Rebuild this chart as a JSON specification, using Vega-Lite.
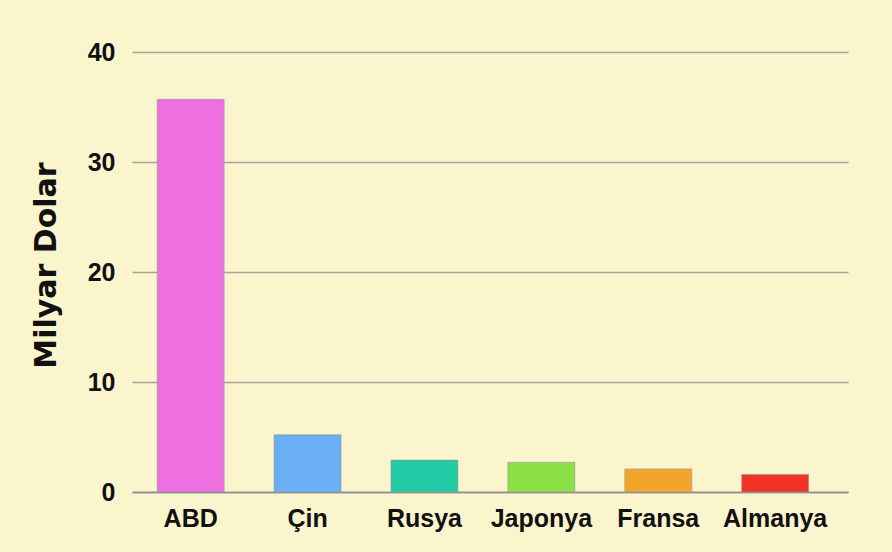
{
  "$schema": "https://vega.github.io/schema/vega-lite/v6.json",
  "autosize": "none",
  "width": 716,
  "height": 440,
  "padding": {"left": 132, "top": 52, "right": 44, "bottom": 60},
  "background": "#FAF5CC",
  "config": {"view": {"stroke": null}, "font": "Liberation Sans"},
  "data": {"values": [
    {"ulke": "ABD", "deger": 35.7, "renk": "#EE6FE0"},
    {"ulke": "Çin", "deger": 5.2, "renk": "#6AAEF5"},
    {"ulke": "Rusya", "deger": 2.9, "renk": "#22C9A5"},
    {"ulke": "Japonya", "deger": 2.7, "renk": "#8BE045"},
    {"ulke": "Fransa", "deger": 2.1, "renk": "#F2A52A"},
    {"ulke": "Almanya", "deger": 1.6, "renk": "#F03325"}
  ]},
  "mark": {"type": "bar", "stroke": "#9a9a9a", "strokeWidth": 0.6},
  "encoding": {
    "x": {
      "field": "ulke", "type": "nominal", "sort": null,
      "scale": {"paddingInner": 0.427, "paddingOuter": 0.276, "align": 0.39},
      "axis": {"title": null, "labelAngle": 0, "labelFontSize": 25, "labelFontWeight": "bold", "labelColor": "#111", "labelPadding": 14, "ticks": false, "domainColor": "#8c8a90", "domainWidth": 1.5}
    },
    "y": {
      "field": "deger", "type": "quantitative",
      "scale": {"domain": [0, 40]},
      "axis": {"title": "Milyar Dolar", "titleFont": "DejaVu Sans", "titleFontSize": 30, "titleFontWeight": "bold", "titleColor": "#111", "titlePadding": 26, "titleY": 213, "values": [0, 10, 20, 30, 40], "labelFontSize": 25, "labelFontWeight": "bold", "labelColor": "#111", "labelPadding": 17, "ticks": false, "domain": false, "gridColor": "#a8a29a", "gridWidth": 1.5}
    },
    "color": {"field": "renk", "type": "nominal", "scale": null, "legend": null}
  }
}
